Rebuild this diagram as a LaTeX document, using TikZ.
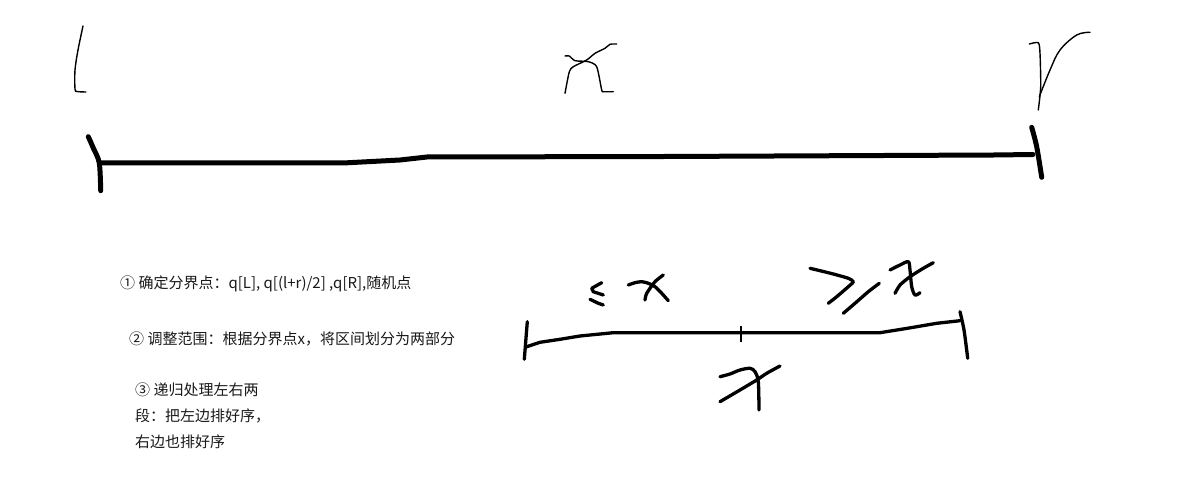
\documentclass[tikz,border=0pt]{standalone}
\usepackage{fontspec}
\newfontfamily\cjk{Noto Sans CJK SC}
\begin{document}
\begin{tikzpicture}[x=1pt,y=-1pt,
  thinpen/.style={line width=1.4pt,line cap=round,line join=round},
  boldpen/.style={line width=5pt,line cap=round,line join=round},
  midpen/.style={line width=3.3pt,line cap=round,line join=round},
  note/.style={anchor=west,inner sep=0pt,font=\cjk\fontsize{15}{18}\selectfont,text=black!90}]
\useasboundingbox (0,0) rectangle (1178,478);
\fill[white] (0,0) rectangle (1178,478);
% top letters
\draw[thinpen] plot[smooth,tension=0.5] coordinates {(83,26) (78,50) (75,70) (75,89) (77,91.5) (86,92)};
\draw[thinpen] plot[smooth,tension=0.4] coordinates {(565,56) (569.3,56) (575,60.7) (588.3,61.7) (596.7,66.7) (601.7,90) (603.3,91.7) (613.3,91.7)};
\draw[thinpen] plot[smooth,tension=0.4] coordinates {(616.7,44) (610,44.3) (605,48.3) (595,53.3) (586.7,60) (573.3,66.7) (569.3,71.7) (565,93.3)};
\draw[thinpen] plot[smooth,tension=0.4] coordinates {(1029.3,44) (1038.3,42.7) (1040,53.3) (1040.7,86.7) (1038.3,110)};
\draw[thinpen] plot[smooth,tension=0.6] coordinates {(1039.3,96.7) (1050,70) (1060,50) (1076.7,35) (1090,32.3)};
% top axis
\draw[boldpen] plot[smooth,tension=0.5] coordinates {(88.3,136.7) (93.3,148) (99.3,163) (100.7,190.7)};
\draw[boldpen] plot[smooth,tension=0.5] coordinates {(1031.7,127.3) (1036.7,146.7) (1041.7,177.3)};
\draw[boldpen] (100,163) -- (343,163) -- (400,160) -- (427,157) -- (665,156.5) -- (994,155) -- (1033,154.5);
% lower axis
\draw[midpen] (527.3,321.7) -- (524.3,359.3);
\draw[midpen] (526.7,346.7) -- (540,342.3) -- (560,339.3) -- (580,336) -- (613.3,332.7) -- (650,332.7) -- (880,332.7) -- (900,329.5) -- (913.3,327.3) -- (936.7,323.3) -- (960,320.7);
\draw[midpen] plot[smooth,tension=0.5] coordinates {(960,311.7) (964,330) (967.7,358.3)};
\draw[line width=2.5pt] (741,326) -- (741,341.7);
% lower x
\draw[midpen] plot[smooth,tension=0.5] coordinates {(720,376.7) (730,374) (740,370) (750,368.3) (755,371.7) (758.3,381.7) (759,410)};
\draw[midpen] plot[smooth,tension=0.4] coordinates {(780,366) (766.7,373.3) (756.7,380) (740,390) (720,401.7)};
% <= x
\draw[midpen] (601.7,282.7) -- (591.7,288.3) -- (593.3,291.7) -- (603.3,295);
\draw[midpen] (590,299.3) -- (598.3,303.3) -- (603.3,305);
\draw[midpen] plot[smooth,tension=0.5] coordinates {(628.3,285) (635,282.7) (641.7,281.7) (648.3,283.3) (655,286.7) (661.7,293.3) (668.3,300.7)};
\draw[midpen] plot[smooth,tension=0.4] coordinates {(663.3,275) (655,281.7) (646.7,293.3) (645,300)};
% > x
\draw[midpen] plot[smooth,tension=0.4] coordinates {(810,268.3) (820,270.7) (833.3,274) (848.3,278.3) (853.3,281.7) (848.3,286.7) (836.7,296.7) (828.3,303.3)};
\draw[midpen] plot[smooth,tension=0.4] coordinates {(879.3,283.3) (868.3,291.7) (855,303.3) (843.3,313.3)};
\draw[midpen] plot[smooth,tension=0.5] coordinates {(890,270) (900,265) (908.3,261.7) (910,270) (911.7,286.7) (915,295) (920,292.7)};
\draw[midpen] plot[smooth,tension=0.4] coordinates {(933.3,262.7) (923.3,268.3) (910,276.7) (900,285) (895,293.3)};
% notes
\node[note] (n1) at (120,284) {① 确定分界点：q[L], q[(l+r)/2] ,q[R],随机点};
\node[note] (n2) at (129,339) {② 调整范围：根据分界点x，将区间划分为两部分};
\node[note] (n3) at (135,389.3) {③ 递归处理左右两};
\node[note] (n4) at (135,415.7) {段：把左边排好序，};
\node[note] (n5) at (135,441.7) {右边也排好序};
\end{tikzpicture}
\end{document}
